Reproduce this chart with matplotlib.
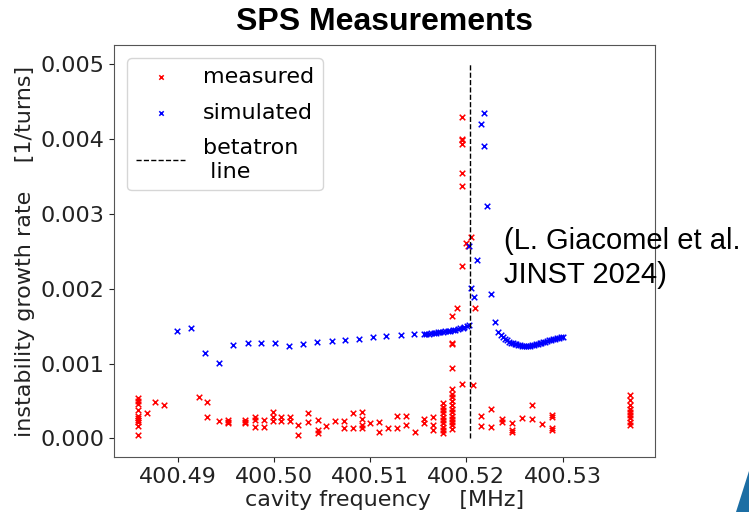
import matplotlib
matplotlib.use("Agg")
from matplotlib import pyplot as plt
from matplotlib.patches import Polygon

# simulated growth rate
sim_freq = [400.4899, 400.4914, 400.4929, 400.4943, 400.4958, 400.4973, 400.4987, 400.5001,
            400.5016, 400.5030, 400.5045, 400.5060, 400.5074, 400.5088, 400.5103, 400.5117,
            400.5132, 400.5146,
            400.5156, 400.5158, 400.5161, 400.5163, 400.5166, 400.5168, 400.5171, 400.5173,
            400.5176, 400.5178, 400.5181, 400.5183, 400.5186, 400.5188, 400.5191, 400.5193,
            400.5196, 400.5198, 400.5201, 400.5203,
            400.52028, 400.52043, 400.52077, 400.52111, 400.52150, 400.52184, 400.52184,
            400.52216, 400.52251, 400.52296, 400.52330,
            400.5236, 400.5238, 400.5240, 400.5242, 400.5244, 400.5246, 400.5248, 400.5250,
            400.5252, 400.5254, 400.5256, 400.5258, 400.5260, 400.5262, 400.5264, 400.5266,
            400.5268, 400.5270, 400.5272, 400.5274, 400.5276, 400.5278, 400.5280, 400.5282,
            400.5284, 400.5286, 400.5288, 400.5290, 400.5292, 400.5294, 400.5296, 400.5298,
            400.5300]
sim_rate = [1.43e-3, 1.48e-3, 1.14e-3, 1.01e-3, 1.25e-3, 1.27e-3, 1.27e-3, 1.27e-3,
            1.24e-3, 1.26e-3, 1.29e-3, 1.30e-3, 1.31e-3, 1.33e-3, 1.35e-3, 1.37e-3,
            1.38e-3, 1.40e-3,
            1.40e-3, 1.40e-3, 1.40e-3, 1.405e-3, 1.41e-3, 1.41e-3, 1.415e-3, 1.42e-3,
            1.425e-3, 1.43e-3, 1.435e-3, 1.44e-3, 1.445e-3, 1.45e-3, 1.46e-3, 1.47e-3,
            1.48e-3, 1.49e-3, 1.50e-3, 1.52e-3,
            2.57e-3, 2.01e-3, 1.89e-3, 2.38e-3, 4.19e-3, 4.35e-3, 3.90e-3,
            3.10e-3, 1.93e-3, 1.56e-3, 1.42e-3,
            1.38e-3, 1.35e-3, 1.33e-3, 1.31e-3, 1.29e-3, 1.28e-3, 1.27e-3, 1.26e-3,
            1.255e-3, 1.25e-3, 1.245e-3, 1.24e-3, 1.238e-3, 1.236e-3, 1.236e-3, 1.238e-3,
            1.242e-3, 1.248e-3, 1.255e-3, 1.262e-3, 1.27e-3, 1.278e-3, 1.285e-3, 1.292e-3,
            1.30e-3, 1.31e-3, 1.318e-3, 1.325e-3, 1.33e-3, 1.337e-3, 1.343e-3, 1.35e-3,
            1.357e-3]

# measured growth rate
meas_freq = [400.48594] * 10 + [400.48682, 400.48768, 400.48862, 400.49226, 400.49306, 400.49306,
             400.49427, 400.4952, 400.4952, 400.4952, 400.49705, 400.49705, 400.49705,
             400.49805, 400.49805, 400.49805, 400.49895, 400.49895,
             400.49996, 400.49996, 400.49996, 400.50076, 400.50076, 400.50173, 400.50173,
             400.50256, 400.50256, 400.50353, 400.50353, 400.50454, 400.50454, 400.50454,
             400.50537, 400.50634, 400.50724, 400.50724, 400.50821, 400.50821,
             400.50912, 400.50912, 400.50912, 400.50912, 400.51002, 400.51092, 400.51092,
             400.51185, 400.51279, 400.51279, 400.51377, 400.51377, 400.51463,
             400.5156, 400.5156, 400.51654, 400.51654, 400.51654] \
    + [400.51758] * 10 + [400.51855] * 16 \
    + [400.51903] + [400.51955] * 8 \
    + [400.52001, 400.52018, 400.52053, 400.52064, 400.52091,
       400.52157, 400.52157, 400.52261, 400.52261, 400.52365, 400.52365,
       400.52469, 400.52469, 400.52469, 400.52573, 400.52677, 400.52677, 400.52782,
       400.52886, 400.52886, 400.52886, 400.52886] + [400.5370] * 9
meas_rate = [0.54e-3, 0.50e-3, 0.46e-3, 0.38e-3, 0.30e-3, 0.27e-3, 0.25e-3, 0.22e-3, 0.17e-3, 0.04e-3,
             0.335e-3, 0.49e-3, 0.446e-3, 0.558e-3, 0.49e-3, 0.29e-3,
             0.236e-3, 0.245e-3, 0.21e-3, 0.225e-3, 0.245e-3, 0.21e-3, 0.225e-3,
             0.29e-3, 0.156e-3, 0.25e-3, 0.245e-3, 0.156e-3,
             0.357e-3, 0.29e-3, 0.236e-3, 0.29e-3, 0.236e-3, 0.29e-3, 0.236e-3,
             0.178e-3, 0.044e-3, 0.335e-3, 0.223e-3, 0.245e-3, 0.112e-3, 0.067e-3,
             0.165e-3, 0.232e-3, 0.232e-3, 0.134e-3, 0.343e-3, 0.134e-3,
             0.357e-3, 0.254e-3, 0.178e-3, 0.134e-3, 0.20e-3, 0.223e-3, 0.089e-3,
             0.134e-3, 0.299e-3, 0.134e-3, 0.299e-3, 0.178e-3, 0.089e-3,
             0.254e-3, 0.209e-3, 0.29e-3, 0.178e-3, 0.112e-3,
             0.47e-3, 0.424e-3, 0.38e-3, 0.335e-3, 0.29e-3, 0.245e-3, 0.20e-3, 0.156e-3, 0.112e-3, 0.067e-3,
             1.63e-3, 1.27e-3, 1.26e-3, 0.94e-3, 0.66e-3, 0.60e-3, 0.55e-3, 0.50e-3,
             0.45e-3, 0.40e-3, 0.35e-3, 0.30e-3, 0.26e-3, 0.22e-3, 0.18e-3, 0.13e-3,
             1.74e-3,
             0.73e-3, 2.30e-3, 3.37e-3, 3.54e-3, 3.93e-3, 4.00e-3, 3.98e-3, 4.29e-3,
             2.61e-3, 2.57e-3, 2.69e-3, 0.715e-3, 1.74e-3,
             0.30e-3, 0.165e-3, 0.39e-3, 0.156e-3, 0.255e-3, 0.223e-3,
             0.21e-3, 0.11e-3, 0.09e-3, 0.268e-3, 0.446e-3, 0.255e-3, 0.19e-3,
             0.312e-3, 0.28e-3, 0.134e-3, 0.11e-3,
             0.58e-3, 0.513e-3, 0.446e-3, 0.40e-3, 0.357e-3, 0.312e-3, 0.268e-3, 0.223e-3, 0.178e-3]

betatron_freq = 400.5204
x_ticks = [400.49, 400.50, 400.51, 400.52, 400.53]
y_ticks = [0.000, 0.001, 0.002, 0.003, 0.004, 0.005]

fig = plt.figure(figsize=(7.49, 5.12), dpi=100)
ax = fig.add_axes([0.152, 0.107, 0.722, 0.805])

ax.scatter(meas_freq, meas_rate, marker="x", color="red", s=16, linewidths=1.1, label="measured")
ax.scatter(sim_freq, sim_rate, marker="x", color="blue", s=16, linewidths=1.1, label="simulated")
ax.vlines(betatron_freq, 0, 0.005, colors="black", linestyles="dashed", linewidth=1,
          label="betatron\n line")

ax.set_xticks(x_ticks)
ax.set_xticklabels(["%.2f" % t for t in x_ticks])
ax.set_yticks(y_ticks)
ax.set_yticklabels(["%.3f" % t for t in y_ticks])
ax.tick_params(labelsize=16, colors="#222222")
ax.set_xlabel("cavity frequency    [MHz]", fontsize=16, color="#222222", labelpad=2)
ax.set_ylabel("instability growth rate    [1/turns]", fontsize=16, color="#222222", labelpad=4)
for side in ax.spines.values():
    side.set_color("#555555")

ax.legend(loc="upper left", fontsize=16, markerscale=0.8, handlelength=2.2,
          borderaxespad=0.6, labelspacing=0.7)

fig.text(0.514, 0.958, "SPS Measurements", ha="center", va="center", fontsize=23,
         fontweight="bold", family="Liberation Sans")
fig.text(0.673, 0.496, "(L. Giacomel et al.\nJINST 2024)", ha="left", va="center",
         fontsize=21, family="Liberation Sans", linespacing=1.3)

# corner decoration from the slide
fig.patches.append(Polygon([[0.982, 0.0], [1.0, 0.0], [1.0, 0.08]], closed=True,
                           transform=fig.transFigure, facecolor="#1c6ea4", edgecolor="none"))

fig.savefig("out.png", dpi=100)
